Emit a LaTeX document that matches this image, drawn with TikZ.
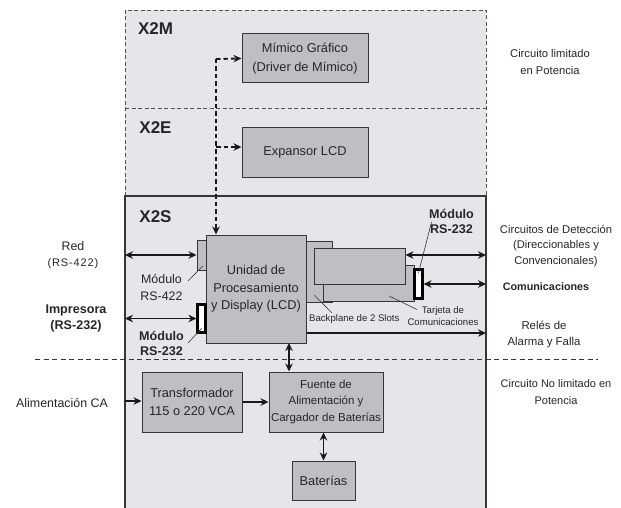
\documentclass[tikz,border=0pt]{standalone}
\usepackage{fontspec}
\setmainfont{Liberation Sans}
\usetikzlibrary{arrows.meta}
\definecolor{panel}{HTML}{E4E6EA}
\definecolor{boxg}{HTML}{BDBFC3}
\definecolor{ink}{HTML}{262626}
\definecolor{edge}{HTML}{363636}
\newcommand\fsz[2]{\fontsize{#1pt}{#2pt}\selectfont}
\begin{document}
\begin{tikzpicture}[x=1pt,y=-1pt,
  every node/.style={text=ink},
  gbox/.style={draw=edge, fill=boxg, line width=1pt, inner sep=0pt, align=center, font=\fsz{12.8}{17.5}},
  wmod/.style={draw=black, fill=white, line width=2.2pt, inner sep=0pt},
  tip/.style={-{Stealth[length=8pt,width=7.5pt]}},
  arr/.style={line width=1.9pt, draw=black!90, -{Stealth[length=8pt,width=7.5pt]}},
  darr/.style={line width=1.9pt, draw=black!90, {Stealth[length=8pt,width=7.5pt]}-{Stealth[length=8pt,width=7.5pt]}},
  dashc/.style={line width=1.9pt, draw=black!90, dash pattern=on 4.5pt off 3pt},
  lead/.style={line width=0.6pt, draw=edge},
  lbl/.style={align=center, inner sep=0pt},
  sect/.style={inner sep=0pt, font=\bfseries\fsz{17}{17}},
]
\useasboundingbox (0,0) rectangle (621,508);
% panels
\fill[panel] (125,10) rectangle (486,508);
\draw[edge!85, line width=0.9pt, dash pattern=on 4pt off 2.5pt] (125,196) -- (125,10) -- (486,10) -- (486,196);
\draw[edge!85, line width=0.9pt, dash pattern=on 4pt off 2.5pt] (125,108) -- (486,108);
\draw[edge, line width=1.2pt] (125,508) -- (125,196) -- (486,196) -- (486,508);
% power-limit separator
\draw[edge, line width=0.9pt, dash pattern=on 5pt off 3.5pt] (35,359) -- (598,359);

% section labels
\node[sect] (x2m) at (155.5,28.5) {X2M};
\node[sect] (x2e) at (155.5,127.5) {X2E};
\node[sect] (x2s) at (155.5,216.5) {X2S};

% boxes
\node[gbox, minimum width=126pt, minimum height=49pt] (mim) at (305,58.5) {Mímico Gráfico\\[0.8pt](Driver de Mímico)};
\node[gbox, minimum width=126pt, minimum height=49pt] (exp) at (305,152.5) {Expansor LCD};
\node[gbox, minimum width=9pt, minimum height=30pt] (m422) at (201.5,255) {};
\node[gbox, minimum width=26pt, minimum height=61pt] (bp) at (319,271.5) {};
\node[gbox, minimum width=100pt, minimum height=108pt] (cpu) at (256,289) {Unidad de\\Procesamiento\\y Display (LCD)};
\node[wmod, minimum width=8pt, minimum height=28pt] (m232l) at (201.5,318.5) {};
\node[gbox, minimum width=91pt, minimum height=36pt] (card2) at (368.5,283) {};
\node[gbox, minimum width=91pt, minimum height=36pt] (card1) at (359.5,266) {};
\node[wmod, minimum width=8pt, minimum height=29pt] (m232r) at (418.5,284) {};
\node[gbox, minimum width=100pt, minimum height=60pt] (tra) at (192,402) {Transformador\\115 o 220 VCA};
\node[gbox, minimum width=114pt, minimum height=60pt, font=\fsz{11.5}{16.5}] (fue) at (326,402) {Fuente de\\Alimentación y\\Cargador de Baterías};
\node[gbox, minimum width=63pt, minimum height=39pt] (bat) at (323.5,480.5) {Baterías};

% dashed connector from CPU to expansion boards
\coordinate (dtop) at (216,59);
\coordinate (dmid) at (216,147);
\draw[dashc, tip] (dtop) -- (mim.west);
\draw[dashc, tip] (dmid) -- (dmid -| exp.west);
\draw[dashc, tip] (dtop) -- (dtop |- cpu.north);

% external connections
\coordinate (redL) at (125,255);
\coordinate (impL) at (125,318.5);
\coordinate (cirR) at (486,255);
\coordinate (comR) at (486,284);
\coordinate (relR) at (486,333);
\coordinate (acL) at (125,401);
\coordinate (vcol) at (289,343);
\draw[darr] (redL) -- (m422.west);
\draw[darr] (impL) -- (m232l.west);
\draw[darr] (cirR -| card1.east) -- (cirR);
\draw[darr] (m232r.east) -- (comR);
\draw[arr] (relR -| cpu.east) -- (relR);
\draw[darr] (vcol) -- (vcol |- fue.north);
\draw[arr] (acL) -- (acL -| tra.west);
\draw[arr] (tra.east) -- (fue.west);
\draw[darr] (bat.north |- fue.south) -- (bat.north);

% outside labels
\node[lbl, font=\fsz{11.2}{17}] (lim) at (550,62) {Circuito limitado\\en Potencia};
\node[lbl, font=\fsz{11.2}{15.5}] (cir) at (556,246) {Circuitos de Detección\\(Direccionables y\\Convencionales)};
\node[lbl, font=\bfseries\fsz{10.8}{14}] (com) at (546,286.5) {Comunicaciones};
\node[lbl, font=\fsz{11.4}{15.5}] (rel) at (544,334.5) {Relés de\\Alarma y Falla};
\node[lbl, font=\fsz{11}{17}] (nolim) at (556,392.5) {Circuito No limitado en\\Potencia};
\node[lbl, font=\fsz{12.4}{15}] (ac) at (62,403) {Alimentación CA};
\node[lbl, font=\fsz{12.4}{15.5}] (red) at (73,255) {Red\\{\addfontfeatures{LetterSpace=8}\fsz{11}{15.5}(RS-422)}};
\node[lbl, font=\bfseries\fsz{12.6}{16}] (imp) at (76,318) {Impresora\\(RS-232)};

% module labels with leaders
\node[lbl, font=\fsz{12.4}{16.7}] (t422) at (161.5,287.5) {Módulo\\RS-422};
\draw[lead] (188,281) -- (202.7,266);
\node[lbl, font=\bfseries\fsz{12.6}{15.5}] (t232l) at (161.5,343.5) {Módulo\\RS-232};
\draw[lead] (188,343) -- (201.7,328.3);
\node[lbl, font=\bfseries\fsz{12.6}{15.5}] (t232r) at (451.5,221.5) {Módulo\\RS-232};
\draw[lead] (431.5,222) -- (418.5,273);
\node[lbl, font=\fsz{9.6}{11.7}] (tbp) at (354.3,319) {Backplane de 2 Slots};
\draw[lead] (314.3,295) -- (331.7,312.7);
\node[lbl, font=\fsz{9.6}{11.7}] (ttar) at (443,316) {Tarjeta de\\Comunicaciones};
\draw[lead] (389,296) -- (417,309.5);
\end{tikzpicture}
\end{document}
